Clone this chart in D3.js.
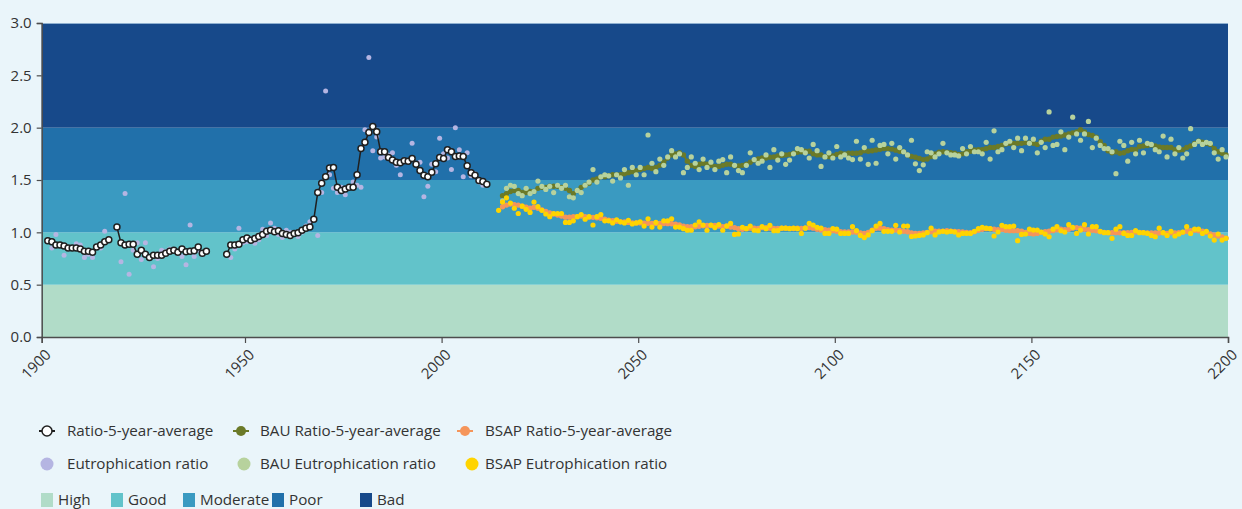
<!DOCTYPE html>
<html>
<head>
<meta charset="utf-8">
<script src="https://cdn.jsdelivr.net/npm/d3@7"></script>
<style>
  html, body { margin: 0; padding: 0; background: #eaf5fa; }
  svg { display: block; font-family: "Open Sans", "Noto Sans", sans-serif; }
</style>
</head>
<body>
<svg id="chart" width="1242" height="509"></svg>
<script>
/* **************************************************************** *
 *   Data
 * **************************************************************** */
// observed period, three runs of yearly values
const histStart = [1901, 1918, 1945];
const histAvg = [
    [0.92,0.91,0.88,0.88,0.87,0.85,0.85,0.85,0.84,0.82,0.82,0.81,0.86,0.88,0.91,0.93],
    [1.05,0.90,0.88,0.885,0.885,0.79,0.83,0.79,0.76,0.78,0.78,0.78,0.80,0.82,0.83,0.81,0.84,0.815,0.82,0.825,0.86,0.80,0.82],
    [0.79,0.88,0.88,0.885,0.93,0.945,0.925,0.94,0.96,0.98,
     1.01,1.02,1.005,1.015,0.99,0.98,0.97,0.99,0.995,1.02,
     1.04,1.05,1.125,1.38,1.47,1.53,1.615,1.62,1.43,1.40,
     1.415,1.43,1.43,1.55,1.80,1.86,1.955,2.01,1.96,1.77,
     1.77,1.715,1.69,1.67,1.665,1.685,1.68,1.705,1.65,1.59,
     1.545,1.53,1.575,1.655,1.715,1.705,1.79,1.77,1.725,1.73,
     1.725,1.635,1.57,1.545,1.495,1.485,1.46]
];
const histRatio = [
    [0.92,0.85,0.98,0.88,0.78,0.84,0.85,0.89,0.88,0.76,0.79,0.76,0.87,0.85,1.01,0.93],
    [1.04,0.72,1.37,0.60,0.83,0.90,0.74,0.90,0.76,0.67,0.75,0.83,0.82,0.84,0.82,0.80,0.77,0.69,1.07,0.77,0.83,0.79,0.83],
    [0.79,0.76,0.84,1.04,0.90,0.91,0.94,0.895,0.93,1.03,
     0.97,1.09,1.04,0.98,0.95,1.02,1.00,0.98,0.96,1.00,
     1.06,1.10,1.12,0.97,1.38,2.35,1.55,1.42,1.38,1.43,
     1.36,1.43,1.48,1.45,1.43,1.98,2.67,1.78,1.91,1.71,
     1.72,1.74,1.76,1.64,1.55,1.69,1.68,1.85,1.65,1.67,
     1.34,1.44,1.65,1.58,1.90,1.75,1.71,1.60,2.00,1.79,
     1.53,1.76,1.54,1.56,1.48,1.45,1.46]
];

// scenarios, yearly from projStart
const projStart = 2014;
const bauAvg = [null,
    1.35,1.37,1.39,1.40,1.40,1.38,1.38,1.39,1.39,1.42,
    1.43,1.43,1.44,1.44,1.44,1.43,1.42,1.40,1.37,1.40,
    1.43,1.45,1.47,1.50,1.51,1.53,1.53,1.54,1.55,1.55,
    1.55,1.56,1.57,1.58,1.59,
    1.60,1.61,1.62,1.61,1.62,1.64,1.67,1.71,1.74,1.75,
    1.76,1.74,1.68,1.64,1.63,1.65,1.66,1.65,1.64,1.63,
    1.63,1.64,1.65,1.65,1.635,1.635,1.64,1.65,1.67,1.69,
    1.70,1.71,1.71,1.717,1.72,1.73,1.735,1.74,1.745,1.755,
    1.765,1.77,1.775,1.775,1.75,1.74,1.74,1.723,1.723,1.73,
    1.745,1.755,1.75,1.755,1.755,1.755,1.76,1.78,1.775,1.78,
    1.787,1.793,1.80,1.80,1.795,1.785,1.775,1.77,1.74,1.725,
    1.717,1.705,1.695,1.70,1.725,1.748,1.765,1.77,1.765,1.76,
    1.755,1.745,1.75,1.77,1.775,1.787,1.79,1.79,1.80,1.81,
    1.81,1.82,1.83,1.843,1.85,1.85,1.85,
    1.85,1.857,1.855,1.85,1.84,1.87,1.89,1.89,1.91,1.915,
    1.92,1.93,1.94,1.95,1.96,1.98,1.96,1.935,1.925,1.91,
    1.866,1.83,1.78,1.76,1.77,1.755,1.76,1.78,1.793,1.79,
    1.82,1.825,1.83,1.834,1.825,1.815,1.81,1.81,1.81,1.79,
    1.785,1.79,1.81,1.825,1.85,1.87,1.86,1.85,1.84,1.80,
    1.77,1.755,1.74];
const bauRatio = [null,
    1.30,1.42,1.45,1.44,1.37,1.35,1.42,1.37,1.39,1.49,
    1.44,1.41,1.44,1.38,1.45,1.42,1.45,1.34,1.33,1.40,
    1.38,1.45,1.48,1.60,1.48,1.53,1.55,1.54,1.49,1.55,
    1.52,1.60,1.45,1.62,1.55,
    1.62,1.55,1.93,1.66,1.58,1.70,1.64,1.72,1.78,1.72,
    1.75,1.57,1.62,1.72,1.66,1.60,1.70,1.62,1.67,1.60,
    1.68,1.695,1.57,1.72,1.64,1.59,1.57,1.64,1.76,1.695,
    1.66,1.68,1.74,1.62,1.79,1.69,1.75,1.65,1.69,1.75,
    1.80,1.79,1.76,1.71,1.84,1.78,1.63,1.72,1.76,1.71,
    1.82,1.72,1.74,1.71,1.695,1.87,1.70,1.81,1.65,1.88,
    1.66,1.83,1.84,1.75,1.85,1.70,1.81,1.77,1.74,1.88,
    1.655,1.59,1.645,1.77,1.76,1.72,1.75,1.85,1.76,1.74,
    1.74,1.73,1.80,1.75,1.82,1.77,1.77,1.75,1.86,1.70,
    1.97,1.77,1.79,1.85,1.87,1.81,1.90,
    1.78,1.90,1.85,1.89,1.76,1.86,1.81,2.15,1.83,1.84,
    1.96,1.79,1.91,2.10,1.94,1.88,1.94,2.06,1.81,1.90,
    1.83,1.80,1.80,1.77,1.56,1.87,1.83,1.68,1.86,1.75,
    1.88,1.76,1.85,1.84,1.79,1.77,1.92,1.72,1.89,1.75,
    1.81,1.71,1.75,1.99,1.84,1.87,1.84,1.86,1.85,1.76,
    1.70,1.79,1.72];
const bsapAvg = [null,
    1.245,1.26,1.27,1.265,1.26,1.25,1.24,1.23,1.24,1.23,
    1.215,1.20,1.185,1.175,1.165,1.155,1.145,1.145,1.15,1.15,
    1.155,1.15,1.145,1.143,1.14,1.135,1.125,1.115,1.11,1.105,
    1.10,1.10,1.095,1.09,1.09,1.09,1.088,1.086,1.085,1.085,
    1.085,1.085,1.083,1.082,1.078,1.07,1.058,1.054,1.054,1.054,
    1.057,1.062,1.066,1.066,1.065,1.06,1.055,1.06,
    1.05,1.045,1.035,1.03,1.035,1.04,1.04,1.036,1.045,1.045,
    1.04,1.038,1.036,1.04,1.04,1.038,1.036,1.04,1.038,1.042,
    1.045,1.04,1.03,1.022,1.025,1.02,1.016,1.01,1.005,1.003,
    1.003,1.003,1.0,0.995,0.99,1.0,1.02,1.038,1.04,1.035,
    1.025,1.02,1.022,1.018,1.01,1.005,0.995,0.99,0.99,0.995,
    1.0,1.005,1.01,1.01,1.012,1.016,1.012,1.008,1.005,1.003,
    1.0,0.997,1.005,1.02,1.03,1.035,1.035,1.03,1.025,1.028,
    1.02,1.016,1.016,1.016,
    1.01,1.0,0.99,0.985,0.99,1.0,1.005,1.01,1.016,1.025,
    1.03,1.025,1.03,1.04,1.045,1.04,1.03,1.025,1.02,1.015,
    1.005,1.0,0.997,0.997,0.997,0.995,0.997,0.997,1.0,1.002,
    1.0,0.997,0.995,0.995,0.993,0.993,0.995,0.99,0.995,0.993,
    0.997,1.0,1.01,1.015,1.02,1.015,1.01,1.0,0.985,0.975,
    0.965,0.955,0.945];
const bsapRatio = [
    1.21,1.29,1.33,1.28,1.23,1.18,1.25,1.22,1.19,1.29,
    1.245,1.21,1.175,1.15,1.18,1.18,1.18,1.095,1.095,1.11,
    1.15,1.17,1.125,1.15,1.07,1.15,1.17,1.11,1.11,1.09,
    1.12,1.10,1.09,1.115,1.08,1.09,1.10,1.06,1.13,1.05,
    1.095,1.05,1.11,1.11,1.13,1.05,1.05,1.035,1.02,1.02,
    1.07,1.10,1.07,1.02,1.07,1.045,1.075,1.02,1.06,
    1.085,0.98,0.985,1.048,1.035,1.06,1.02,1.016,1.054,1.035,
    1.067,1.016,1.016,1.04,1.04,1.035,1.04,1.035,0.99,1.04,
    1.085,1.07,1.048,1.04,0.99,0.99,1.035,1.03,0.99,0.99,
    0.99,1.054,1.016,0.97,0.95,0.975,1.016,1.06,1.085,1.01,
    1.01,1.01,1.067,1.003,1.06,1.06,0.96,0.965,0.97,0.975,
    0.997,1.04,0.975,1.003,1.01,1.003,1.01,1.003,0.975,0.99,
    0.99,0.99,1.01,1.035,1.048,1.04,1.035,0.965,1.003,1.067,
    1.054,1.054,1.06,0.92,
    0.98,0.984,1.03,1.022,1.022,1.003,0.984,0.958,1.03,1.054,
    1.016,1.003,1.073,1.048,0.99,1.022,1.073,0.984,1.054,1.054,
    1.01,0.997,0.997,0.943,1.03,1.054,0.99,0.97,0.97,1.016,
    0.997,0.997,0.99,0.97,0.958,1.04,0.997,0.97,1.01,0.965,
    0.984,1.003,1.054,0.99,1.03,1.03,0.99,1.01,0.965,0.926,
    0.984,0.926,0.943];

// status classes (upper limit of each band)
const bandNames  = ['High', 'Good', 'Moderate', 'Poor', 'Bad'];
const bandLimits = [0.5, 1.0, 1.5, 2.0, 3.0];

const xTicks = [1900, 1950, 2000, 2050, 2100, 2150, 2200];
const yTicks = [0, 0.5, 1.0, 1.5, 2.0, 2.5, 3.0];

const seriesNames = ['Ratio-5-year-average', 'BAU Ratio-5-year-average', 'BSAP Ratio-5-year-average',
                     'Eutrophication ratio', 'BAU Eutrophication ratio', 'BSAP Eutrophication ratio'];

/* **************************************************************** *
 *   Chart
 * **************************************************************** */
class EutrophicationChart {
    constructor (config) {
        this._config = config;
        this._svg = d3.select(config.selector);
    }
    toPoints (start, values) {
        return values
            .map((v, i) => { return { year: start + i, value: v }; })
            .filter((d) => { return d.value != null; });
    }
    setScale () {
        let p = this._config.plot;
        this._x = d3.scaleLinear().domain([1900, 1950, 2200]).range([p.left, p.x1950, p.right]);
        this._y = d3.scaleLinear().domain([0, 3]).range([p.bottom, p.top]);
        // yearly values sit in the middle of their year
        this._px = (d) => { return this._x(d.year + 0.5); };
        this._py = (d) => { return this._y(d.value); };
        return this;
    }
    drawBands () {
        let c = this._config;
        let y = this._y;
        let bands = bandNames.map((name, i) => {
            return { name: name, lo: i == 0 ? 0 : bandLimits[i - 1], hi: bandLimits[i], color: c.bandColors[i] };
        });

        this._svg.append('g').attr('class', 'bands')
            .selectAll('rect')
            .data(bands)
            .enter()
            .append('rect')
            .attr('x', c.plot.left)
            .attr('y', (d) => { return y(d.hi); })
            .attr('width', c.plot.right - c.plot.left)
            .attr('height', (d) => { return y(d.lo) - y(d.hi); })
            .attr('fill', (d) => { return d.color; });

        this._svg.append('line')
            .attr('x1', c.plot.left).attr('x2', c.plot.right)
            .attr('y1', y(3) + 0.5).attr('y2', y(3) + 0.5)
            .attr('stroke', '#8fb0d0').attr('stroke-width', 1);
        return this;
    }
    drawAxes () {
        let c = this._config;
        let svg = this._svg;

        let gy = svg.append('g')
            .attr('class', 'y-axis')
            .attr('transform', 'translate(' + c.plot.left + ',0)')
            .call(d3.axisLeft(this._y).tickValues(yTicks).tickFormat(d3.format('.1f')).tickSize(5).tickPadding(5));

        let gx = svg.append('g')
            .attr('class', 'x-axis')
            .attr('transform', 'translate(0,' + c.plot.bottom + ')')
            .call(d3.axisBottom(this._x).tickValues(xTicks).tickFormat(d3.format('d')).tickSize(6));

        gx.selectAll('text')
            .attr('x', 0).attr('y', 0).attr('dy', '0.35em')
            .attr('text-anchor', 'end')
            .attr('transform', 'translate(6,15) rotate(-45)');

        [gx, gy].forEach((g) => {
            g.selectAll('.domain').attr('stroke', '#4d4d4d').attr('stroke-width', 1.5);
            g.selectAll('.tick line').attr('stroke', '#4d4d4d').attr('stroke-width', 1.2);
            g.selectAll('.tick text')
                .attr('fill', '#333')
                .attr('font-size', 15)
                .attr('font-family', '"Open Sans", sans-serif');
        });
        return this;
    }
    drawScatter (points, color, r, cls) {
        this._svg.append('g').attr('class', cls)
            .selectAll('circle')
            .data(points)
            .enter()
            .append('circle')
            .attr('cx', this._px)
            .attr('cy', this._py)
            .attr('r', r)
            .attr('fill', color);
        return this;
    }
    drawAverage (points, s, cls) {
        let line = d3.line().x(this._px).y(this._py);
        let g = this._svg.append('g').attr('class', cls);

        g.append('path')
            .datum(points)
            .attr('d', line)
            .attr('fill', 'none')
            .attr('stroke', s.line)
            .attr('stroke-width', s.width);

        g.selectAll('circle')
            .data(points)
            .enter()
            .append('circle')
            .attr('cx', this._px)
            .attr('cy', this._py)
            .attr('r', s.r)
            .attr('fill', s.fill)
            .attr('stroke', s.stroke)
            .attr('stroke-width', s.strokeWidth);
        return this;
    }
    drawSeries () {
        let c = this._config.series;

        let bau  = this.toPoints(projStart, bauAvg);
        let bsap = this.toPoints(projStart, bsapAvg);
        this.drawAverage(bau,  c.bau,  'bau-avg');
        this.drawAverage(bsap, c.bsap, 'bsap-avg');
        this.drawScatter(this.toPoints(projStart, bauRatio),  c.bauRatio,  2.6, 'bau-ratio');
        this.drawScatter(this.toPoints(projStart, bsapRatio), c.bsapRatio, 2.6, 'bsap-ratio');

        for (let k in histStart)
            this.drawScatter(this.toPoints(histStart[k], histRatio[k]), c.ratio, 2.5, 'hist-ratio');
        for (let k in histStart)
            this.drawAverage(this.toPoints(histStart[k], histAvg[k]), c.hist, 'hist-avg');
        return this;
    }
    /* **************************************************************** *
     *   Legend
     * **************************************************************** */
    drawLegend () {
        let c = this._config;
        let L = c.legend;
        let svg = this._svg.append('g').attr('class', 'legend');
        let s = c.series;
        let avgStyles = [s.hist, s.bau, s.bsap];
        let dotColors = [s.ratio, s.bauRatio, s.bsapRatio];

        let text = (x, y, label) => {
            svg.append('text')
                .attr('x', x).attr('y', y).attr('dy', '0.35em')
                .attr('font-size', L.fontSize)
                .attr('fill', '#333')
                .text(label);
        };

        // row 1: averages (line + marker)
        avgStyles.forEach((st, i) => {
            let x0 = L.cols[i];
            svg.append('line')
                .attr('x1', x0).attr('x2', x0 + 16)
                .attr('y1', L.rows[0]).attr('y2', L.rows[0])
                .attr('stroke', st.line).attr('stroke-width', 2);
            svg.append('circle')
                .attr('cx', x0 + 8).attr('cy', L.rows[0]).attr('r', 5)
                .attr('fill', st.fill).attr('stroke', st.stroke).attr('stroke-width', st.strokeWidth);
            text(x0 + L.textGap[i], L.rows[0], seriesNames[i]);
        });

        // row 2: yearly ratios
        dotColors.forEach((col, i) => {
            let x0 = L.cols[i];
            svg.append('circle')
                .attr('cx', x0 + L.dotShift[i]).attr('cy', L.rows[1]).attr('r', 6.5)
                .attr('fill', col);
            text(x0 + L.textGap[i], L.rows[1], seriesNames[i + 3]);
        });

        // row 3: status classes
        bandNames.forEach((name, i) => {
            let x0 = L.bandCols[i];
            svg.append('rect')
                .attr('x', x0).attr('y', L.rows[2] - 7)
                .attr('width', 12).attr('height', 14)
                .attr('fill', c.bandColors[i]);
            text(x0 + 17, L.rows[2], name);
        });
        return this;
    }
}

let chart = new EutrophicationChart({
    selector: '#chart',
    plot: { left: 41.7, x1950: 245, right: 1228, top: 23, bottom: 337 },
    bandColors: ['#b1dcc8', '#62c3ca', '#3a9ac1', '#2170aa', '#17498a'],
    series: {
        hist:  { line: '#1f1f1f', width: 1.5, r: 3.0, fill: '#ffffff', stroke: '#1f1f1f', strokeWidth: 1.5 },
        bau:   { line: '#6b7a28', width: 2,   r: 2.7, fill: '#6b7a28', stroke: 'none',    strokeWidth: 0 },
        bsap:  { line: '#f5955a', width: 2,   r: 2.7, fill: '#f5955a', stroke: 'none',    strokeWidth: 0 },
        ratio: '#b5b5e2',
        bauRatio: '#b7d29d',
        bsapRatio: '#ffd400'
    },
    legend: {
        fontSize: 15.2,
        rows: [431, 464, 500],
        cols: [39, 233, 457],
        dotShift: [8, 11, 15],
        textGap: [28, 27, 28],
        bandCols: [41, 111, 183, 272, 360]
    }
});

chart.setScale()
    .drawBands()
    .drawSeries()
    .drawAxes()
    .drawLegend();
</script>
</body>
</html>
